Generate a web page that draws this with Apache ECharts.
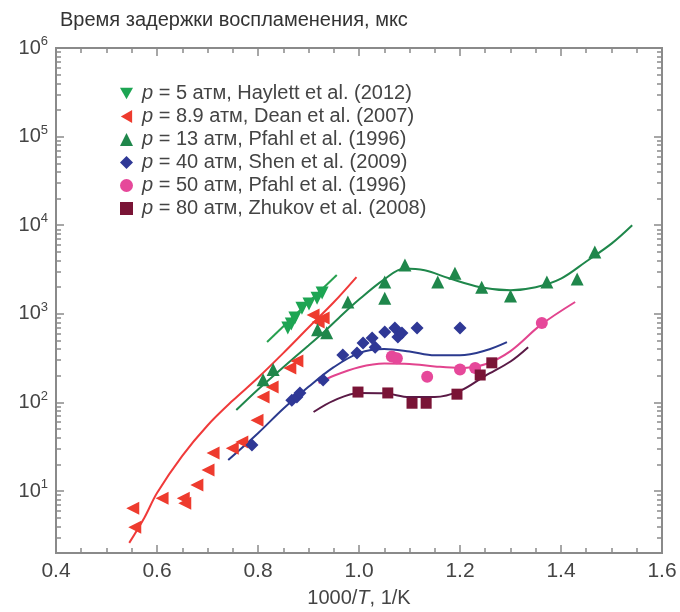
<!DOCTYPE html>
<html>
<head>
<meta charset="utf-8">
<script src="https://cdn.jsdelivr.net/npm/echarts@6/dist/echarts.min.js"></script>
<style>
html, body { margin: 0; padding: 0; background: #fff; }
#main { width: 680px; height: 612px; }
</style>
</head>
<body>
<div id="main"></div>
<script>
// экспериментальные точки [1000/T, мкс]
var p5Pts = [[0.859, 690], [0.866, 770], [0.873, 900], [0.887, 1160], [0.901, 1290], [0.917, 1500], [0.927, 1720]];
var p89Pts = [[0.552, 6.4], [0.556, 3.9], [0.610, 8.3], [0.652, 8.3], [0.655, 7.3], [0.679, 11.7], [0.701, 17.3],
    [0.711, 26.9], [0.749, 30.5], [0.768, 35.7], [0.798, 63], [0.810, 115], [0.828, 149], [0.863, 244],
    [0.877, 293], [0.909, 970], [0.919, 810], [0.929, 900]];
var p13Pts = [[0.810, 180], [0.830, 235], [0.918, 660], [0.936, 610], [0.978, 1360], [1.051, 2290], [1.051, 1500],
    [1.091, 3550], [1.156, 2290], [1.190, 2880], [1.243, 2000], [1.300, 1590], [1.372, 2290], [1.432, 2470], [1.467, 4990]];
var p40Pts = [[0.788, 33], [0.867, 106], [0.877, 115], [0.883, 128], [0.929, 179], [0.968, 343], [0.996, 361],
    [1.008, 468], [1.026, 533], [1.032, 421], [1.051, 623], [1.071, 692], [1.077, 547], [1.085, 608], [1.115, 692], [1.200, 692]];
var p50Pts = [[1.065, 330], [1.075, 315], [1.135, 195], [1.200, 235], [1.230, 245], [1.362, 790]];
var p80Pts = [[0.998, 131], [1.057, 128], [1.105, 98], [1.133, 98], [1.194, 124], [1.240, 204], [1.263, 280]];

// расчётные кривые
var fit5 = [[0.818, 481], [0.956, 2740]];
var fit89 = [[0.545, 2.6], [0.575, 5], [0.60, 9.5], [0.65, 25], [0.70, 55], [0.75, 105], [0.80, 190],
    [0.85, 360], [0.90, 700], [0.95, 1350], [0.995, 2600]];
var fit13 = [[0.757, 82], [0.80, 140], [0.85, 250], [0.90, 440], [0.93, 620], [0.96, 900], [1.0, 1450],
    [1.05, 2450], [1.09, 3250], [1.13, 3100], [1.18, 2500], [1.24, 2000], [1.30, 1850], [1.35, 2000],
    [1.40, 2500], [1.45, 3900], [1.50, 6200], [1.541, 10000]];
var fit40 = [[0.741, 22.4], [0.80, 45], [0.85, 85], [0.90, 150], [0.95, 250], [1.0, 360], [1.05, 400],
    [1.10, 375], [1.15, 340], [1.20, 340], [1.25, 385], [1.293, 480]];
var fit50 = [[0.92, 165], [0.95, 200], [1.0, 250], [1.05, 275], [1.10, 272], [1.15, 255], [1.20, 245],
    [1.25, 270], [1.30, 380], [1.36, 750], [1.428, 1360]];
var fit80 = [[0.91, 78], [0.95, 105], [1.0, 128], [1.05, 127], [1.10, 115], [1.15, 115], [1.20, 135],
    [1.25, 200], [1.30, 290], [1.335, 420]];

// подписи осей
var yMajor = [10, 100, 1000, 10000, 100000, 1000000];
var yMinor = [];
[1, 10, 100, 1000, 10000, 100000].forEach(function (d) {
    for (var k = 2; k <= 9; k++) yMinor.push(k * d);
});
var legendText = {
    p5: '{i|p} = 5 атм, Haylett et al. (2012)',
    p89: '{i|p} = 8.9 атм, Dean et al. (2007)',
    p13: '{i|p} = 13 атм, Pfahl et al. (1996)',
    p40: '{i|p} = 40 атм, Shen et al. (2009)',
    p50: '{i|p} = 50 атм, Pfahl et al. (1996)',
    p80: '{i|p} = 80 атм, Zhukov et al. (2008)'
};

var cols = {
    p5: '#1da553', p89: '#ee3b2e', p13: '#1f874b',
    p40: '#2f3896', p50: '#e6489a', p80: '#7a1436'
};
var lineCols = {
    p5: '#27a04f', p89: '#f03a3a', p13: '#1f874b',
    p40: '#2b3a8e', p50: '#e2448e', p80: '#5a1a46'
};
var symDown = 'path://M0,0L10,0L5,8.7Z';
var symLeft = 'path://M8.7,0L8.7,10L0,5Z';

var font = 'Liberation Sans, Arial, sans-serif';
var axisGray = '#8a8a8a';
var txt = '#444';

function pts(name, data, symbol, size) {
    return {
        name: name, type: 'scatter', data: data, symbol: symbol, symbolSize: size,
        itemStyle: { color: cols[name], opacity: 1 }, z: 3
    };
}
function fit(name, data) {
    return {
        name: 'fit_' + name, type: 'line', data: data, smooth: 0.35, showSymbol: false, symbol: 'none',
        lineStyle: { color: lineCols[name], width: 2 }, z: 2
    };
}
function yAx(pos, vals, len, labels) {
    return {
        type: 'log', position: pos, min: 2, max: 1000000, logBase: 10,
        axisLine: { show: true, lineStyle: { color: axisGray, width: 2 } },
        axisTick: { show: true, inside: true, length: len, customValues: vals, lineStyle: { color: axisGray, width: 1.5 } },
        axisLabel: labels ? {
            show: true, customValues: yMajor, margin: 8,
            formatter: function (v) { return '{b|10}{s|' + Math.round(Math.log10(v)) + '}'; },
            rich: {
                b: { fontSize: 20, color: txt, fontFamily: font },
                s: { fontSize: 13, color: txt, fontFamily: font, padding: [0, 0, 13, 0] }
            }
        } : { show: false },
        splitLine: { show: false }
    };
}
function xAx(pos, labels) {
    return {
        type: 'value', position: pos, min: 0.4, max: 1.6, interval: 0.2,
        name: labels ? '1000/{i|T}, 1/K' : '', nameLocation: 'middle', nameGap: 35,
        nameTextStyle: { fontSize: 20, color: txt, fontFamily: font, rich: { i: { fontStyle: 'italic', fontSize: 20, color: txt, fontFamily: font } } },
        axisLine: { show: true, lineStyle: { color: axisGray, width: 2 } },
        axisTick: { show: true, inside: true, length: 8, lineStyle: { color: axisGray, width: 1.5 } },
        minorTick: { show: true, splitNumber: 4, length: 5, lineStyle: { color: axisGray, width: 1.5 } },
        axisLabel: labels ? {
            show: true, margin: 8, fontSize: 21, color: txt, fontFamily: font,
            formatter: function (v) { return v.toFixed(1); }
        } : { show: false },
        splitLine: { show: false }, minorSplitLine: { show: false }
    };
}

var myChart = echarts.init(document.getElementById('main'));
var option = {
    animation: false,
    backgroundColor: '#fff',
    title: {
        text: 'Время задержки воспламенения, мкс', left: 55, top: 5,
        textStyle: { fontSize: 20, fontWeight: 'normal', color: '#333', fontFamily: font }
    },
    grid: { left: 56, right: 18, top: 48, bottom: 59, containLabel: false, outerBoundsMode: 'none' },
    legend: {
        orient: 'vertical', left: 120, top: 83, itemWidth: 13, itemHeight: 13, itemGap: 2, padding: 0,
        data: [
            { name: 'p5', icon: symDown }, { name: 'p89', icon: symLeft }, { name: 'p13', icon: 'triangle' },
            { name: 'p40', icon: 'diamond' }, { name: 'p50', icon: 'circle' }, { name: 'p80', icon: 'rect' }
        ],
        formatter: function (n) { return legendText[n]; },
        textStyle: {
            fontSize: 20, color: txt, fontFamily: font, lineHeight: 21, padding: [0, 0, 0, 4],
            rich: { i: { fontStyle: 'italic', fontSize: 20, color: txt, fontFamily: font, lineHeight: 21 } }
        }
    },
    xAxis: [xAx('bottom', true), xAx('top', false)],
    yAxis: [yAx('left', yMajor, 8, true), yAx('left', yMinor, 5, false), yAx('right', yMajor, 8, false), yAx('right', yMinor, 5, false)],
    series: [
        fit('p5', fit5), fit('p89', fit89), fit('p13', fit13), fit('p40', fit40), fit('p50', fit50), fit('p80', fit80),
        pts('p5', p5Pts, symDown, 13), pts('p89', p89Pts, symLeft, 13), pts('p13', p13Pts, 'triangle', 13),
        pts('p40', p40Pts, 'diamond', 13), pts('p50', p50Pts, 'circle', 12), pts('p80', p80Pts, 'rect', 11)
    ]
};
myChart.setOption(option);
</script>
</body>
</html>
